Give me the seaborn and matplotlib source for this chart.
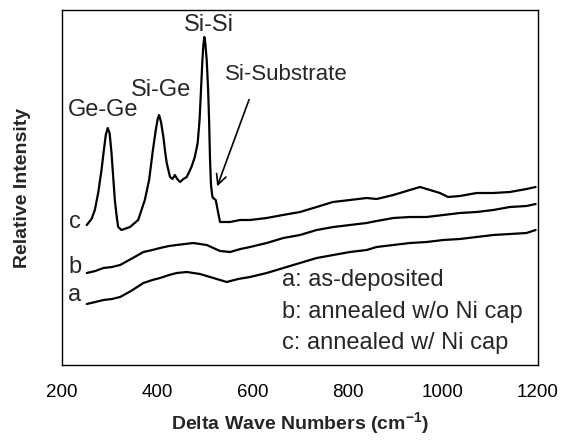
import pandas as pd
import matplotlib
matplotlib.use("Agg")
import matplotlib.pyplot as plt
import seaborn as sns

# =============================
# DATA
# =============================
# a: as-deposited
wn_a = [252, 270, 287, 305, 322, 345, 371, 390, 406, 425, 441, 462, 490, 518,
        546, 570, 595, 630, 665, 700, 735, 770, 805, 840, 861, 896, 931, 966,
        1001, 1036, 1071, 1106, 1141, 1176, 1195]
int_a = [61, 63, 65, 66, 68, 74, 82, 85, 87, 90, 92, 93, 91, 87,
         83, 86, 88, 92, 97, 102, 107, 110, 113, 115, 118, 120, 122, 123,
         125, 126, 128, 130, 131, 132, 135]

# b: annealed w/o Ni cap
wn_b = [252, 270, 287, 305, 322, 345, 371, 390, 406, 425, 441, 476, 504, 532,
        553, 575, 595, 630, 665, 700, 735, 770, 805, 840, 861, 896, 931, 966,
        1001, 1036, 1071, 1106, 1141, 1176, 1195]
int_b = [92, 94, 97, 98, 100, 106, 113, 115, 117, 119, 120, 122, 120, 114,
         113, 116, 118, 122, 127, 130, 135, 138, 140, 142, 144, 147, 148, 148,
         150, 152, 153, 155, 158, 159, 161]

# c: annealed w/ Ni cap
wn_c = [252, 262, 269, 276, 283, 288, 292, 296, 300, 304, 308, 311, 315, 318,
        325, 343, 360, 374, 383, 391, 397, 401, 404, 408, 413, 417, 420, 427,
        432, 437, 442, 448, 455, 462, 472, 479, 485, 489, 492, 495, 497, 499,
        501, 504, 507, 509, 511, 513, 516, 520, 523, 527, 532, 553, 574, 595,
        630, 664, 700, 735, 769, 805, 840, 861, 896, 931, 952, 973, 994, 1011,
        1036, 1071, 1106, 1141, 1176, 1195]
int_c = [140, 146, 155, 172, 195, 215, 230, 237, 232, 212, 185, 165, 148, 138,
         135, 138, 145, 165, 185, 215, 235, 246, 250, 243, 228, 212, 202, 188,
         186, 190, 186, 183, 186, 188, 198, 208, 222, 245, 275, 305, 320, 328,
         322, 305, 275, 245, 205, 180, 168, 166, 165, 155, 143, 143, 145, 145,
         147, 150, 153, 158, 163, 165, 167, 166, 170, 175, 178, 175, 172, 168,
         169, 172, 172, 173, 176, 178]

curve_names = ["a", "b", "c"]
legend_lines = ["a: as-deposited", "b: annealed w/o Ni cap", "c: annealed w/ Ni cap"]
peak_names = ["Ge-Ge", "Si-Ge", "Si-Si"]
peak_pos = [286, 408, 509]
peak_lbl_y = [255, 275, 340]
x_ticks = [200, 400, 600, 800, 1000, 1200]

df = pd.concat([
    pd.DataFrame({"wn": wn_a, "inten": int_a, "curve": "a"}),
    pd.DataFrame({"wn": wn_b, "inten": int_b, "curve": "b"}),
    pd.DataFrame({"wn": wn_c, "inten": int_c, "curve": "c"}),
], ignore_index=True)

# =============================
# PLOT
# =============================
sns.set_style("white")
plt.rcParams["font.family"] = ["Liberation Sans", "DejaVu Sans"]

fig = plt.figure(figsize=(5.61, 4.42), dpi=100)
ax = fig.add_axes([62 / 561, 77 / 442, 476 / 561, 355 / 442])

sns.lineplot(data=df, x="wn", y="inten", hue="curve", units="curve",
             estimator=None, sort=False, palette=["black"] * 3,
             linewidth=1.6, legend=False, ax=ax)

ax.set_xlim(200, 1200)
ax.set_ylim(0, 355)
ax.set_xticks(x_ticks)
ax.set_yticks([])
ax.tick_params(axis="x", direction="inout", length=9, width=1,
               labelsize=13.5, pad=9, colors="black")
for s in ax.spines.values():
    s.set_color("black")
    s.set_linewidth(1)

ax.set_xlabel("Delta Wave Numbers (cm$^{\\mathregular{-1}}$)", fontsize=14,
              fontweight="bold", labelpad=7)
ax.set_ylabel("Relative Intensity", fontsize=14, fontweight="bold", labelpad=22)

# curve letters
for name, y0 in zip(curve_names, [70, 98, 143]):
    ax.text(227, y0, name, fontsize=17, ha="center", va="center")

# peak labels
for name, xp, yp in zip(peak_names, peak_pos, peak_lbl_y):
    ax.text(xp, yp, name, fontsize=17, ha="center", va="center")
ax.text(542, 290, "Si-Substrate", fontsize=16, ha="left", va="center")
ax.annotate("", xy=(524, 176), xytext=(595, 268),
            arrowprops=dict(arrowstyle="->", color="black", lw=1.2,
                            mutation_scale=18))

# description lines
for txt, yl in zip(legend_lines, [85, 53, 22]):
    ax.text(662, yl, txt, fontsize=17, ha="left", va="center")

plt.savefig("out.png", dpi=100)
